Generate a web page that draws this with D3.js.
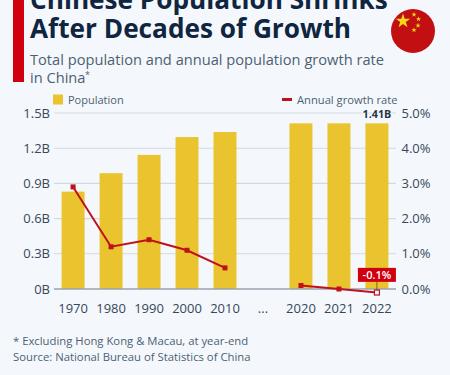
<!DOCTYPE html>
<html>
<head>
<meta charset="utf-8">
<script src="https://cdn.jsdelivr.net/npm/d3@7"></script>
<style>
  html, body { margin: 0; padding: 0; background: #f4f8fc; overflow: hidden; }
  text { font-family: "Open Sans", sans-serif; }
  .domain { display: none; }
  .tick line { display: none; }
</style>
</head>
<body>
<div id="chart"></div>
<script>
// data
var years = ["1970", "1980", "1990", "2000", "2010", "...", "2020", "2021", "2022"];
var population = [0.83, 0.987, 1.143, 1.295, 1.338, null, 1.412, 1.412, 1.412];
var growthRate = [2.9, 1.2, 1.4, 1.1, 0.6, null, 0.1, 0.0, -0.1];
var popTicks = [0, 0.3, 0.6, 0.9, 1.2, 1.5];
var rateTicks = [0, 1, 2, 3, 4, 5];
var titleLines = ["Chinese Population Shrinks", "After Decades of Growth"];
var subtitleLines = ["Total population and annual population growth rate", "in China"];
var footLines = ["* Excluding Hong Kong & Macau, at year-end", "Source: National Bureau of Statistics of China"];

var svgWidth = 450, svgHeight = 375;
var margin = { top: 113, right: 54, bottom: 86, left: 54 };
var width = svgWidth - margin.left - margin.right,
    height = svgHeight - margin.top - margin.bottom;

var svg = d3.select("#chart").append("svg")
  .attr("width", svgWidth)
  .attr("height", svgHeight)
  .style("display", "block");

svg.append("rect").attr("width", svgWidth).attr("height", svgHeight).attr("fill", "#f4f8fc");

// header
svg.append("rect").attr("x", 13).attr("y", 0).attr("width", 11).attr("height", 82).attr("fill", "#d0000f");

svg.selectAll(".title").data(titleLines).enter().append("text")
  .attr("class", "title")
  .attr("x", 30)
  .attr("y", function (d, i) { return 9 + i * 28.5; })
  .attr("font-size", 26.2)
  .attr("font-weight", 700)
  .attr("fill", "#0f2540")
  .text(function (d) { return d; });

svg.selectAll(".subtitle").data(subtitleLines).enter().append("text")
  .attr("class", "subtitle")
  .attr("x", 30)
  .attr("y", function (d, i) { return 65 + i * 17.5; })
  .attr("font-size", 14.65)
  .attr("fill", "#4d5f73")
  .text(function (d) { return d; });

svg.append("text").attr("x", 85).attr("y", 78).attr("font-size", 9).attr("fill", "#4d5f73").text("*");

// flag
var flag = svg.append("g").attr("transform", "translate(413,31)");
flag.append("circle").attr("r", 22).attr("fill", "#c20f12");
var star = d3.symbol().type(d3.symbolStar);
flag.append("path").attr("d", star.size(65)()).attr("transform", "translate(-10,-10)").attr("fill", "#f9d616");
[[1, -16.5], [5.5, -12], [5, -5.5], [1, -1]].forEach(function (p) {
  flag.append("path").attr("d", star.size(9)()).attr("transform", "translate(" + p[0] + "," + p[1] + ")").attr("fill", "#f9d616");
});

// legend
svg.append("rect").attr("x", 53).attr("y", 94.5).attr("width", 10).attr("height", 10).attr("fill", "#e9c42e");
svg.append("text").attr("x", 68).attr("y", 103.5).attr("font-size", 11).attr("fill", "#4d5f73").text("Population");
svg.append("rect").attr("x", 282).attr("y", 98).attr("width", 10).attr("height", 3).attr("fill", "#c0101a");
svg.append("text").attr("x", 297).attr("y", 103.5).attr("font-size", 11.2).attr("fill", "#4d5f73").text("Annual growth rate");

// scales
var g = svg.append("g").attr("transform", "translate(" + margin.left + "," + margin.top + ")");

var x = d3.scaleBand().domain(years).range([0, width]).paddingInner(0.395).paddingOuter(0.2);
var yPop = d3.scaleLinear().domain([0, 1.5]).range([height, 0]);
var yRate = d3.scaleLinear().domain([0, 5]).range([height, 0]);

// gridlines
g.selectAll(".grid").data(popTicks.slice(1)).enter().append("line")
  .attr("class", "grid")
  .attr("x1", 0).attr("x2", width)
  .attr("y1", yPop).attr("y2", yPop)
  .attr("stroke", "#d3d9e0")
  .attr("stroke-width", 1.1);

// axes
var axisLeft = g.append("g")
  .call(d3.axisLeft(yPop).tickValues(popTicks).tickSize(0).tickPadding(4)
    .tickFormat(function (d) { return d === 0 ? "0B" : d.toFixed(1) + "B"; }));

var axisRight = g.append("g")
  .attr("transform", "translate(" + width + ",0)")
  .call(d3.axisRight(yRate).tickValues(rateTicks).tickSize(0).tickPadding(5.5)
    .tickFormat(function (d) { return d.toFixed(1) + "%"; }));

var axisBottom = g.append("g")
  .attr("transform", "translate(0," + height + ")")
  .call(d3.axisBottom(x).tickSize(0).tickPadding(15));

[axisLeft, axisRight, axisBottom].forEach(function (a) {
  a.selectAll("text")
    .style("font-family", '"Open Sans", sans-serif')
    .style("font-size", "13px")
    .attr("fill", "#37475a");
});

// bars
g.selectAll(".bar").data(years.map(function (d, i) { return { year: d, value: population[i] }; })
    .filter(function (d) { return d.value !== null; }))
  .enter().append("rect")
  .attr("class", "bar")
  .attr("x", function (d) { return x(d.year); })
  .attr("width", x.bandwidth())
  .attr("y", function (d) { return yPop(d.value); })
  .attr("height", function (d) { return height - yPop(d.value); })
  .attr("fill", "#e9c42e");

// baseline over the bars
g.append("line")
  .attr("x1", 0).attr("x2", width)
  .attr("y1", height).attr("y2", height)
  .attr("stroke", "#9aa5b0")
  .attr("stroke-width", 1.3);

// line with the gap at "..."
var rateData = years.map(function (d, i) { return { year: d, value: growthRate[i] }; });
var line = d3.line()
  .defined(function (d) { return d.value !== null; })
  .x(function (d) { return x(d.year) + x.bandwidth() / 2; })
  .y(function (d) { return yRate(d.value); });

g.append("path")
  .datum(rateData)
  .attr("d", line)
  .attr("fill", "none")
  .attr("stroke", "#c0101a")
  .attr("stroke-width", 2);

var points = rateData.filter(function (d) { return d.value !== null; });
var last = points[points.length - 1];

g.selectAll(".pt").data(points).enter().append("rect")
  .attr("class", "pt")
  .attr("x", function (d) { return x(d.year) + x.bandwidth() / 2 - 2.5; })
  .attr("y", function (d) { return yRate(d.value) - 2.5; })
  .attr("width", 5)
  .attr("height", 5)
  .attr("fill", function (d) { return d === last ? "#f4f8fc" : "#c0101a"; })
  .attr("stroke", "#c0101a")
  .attr("stroke-width", function (d) { return d === last ? 1.2 : 0; });

// labels on the last year
var lastX = x(last.year) + x.bandwidth() / 2;

g.append("line")
  .attr("x1", lastX).attr("x2", lastX)
  .attr("y1", yRate(0.2)).attr("y2", yRate(last.value) - 2)
  .attr("stroke", "#5a4a20")
  .attr("stroke-width", 0.8);

g.append("rect")
  .attr("x", lastX - 19).attr("y", yRate(0.6))
  .attr("width", 38).attr("height", 14)
  .attr("fill", "#d0000f");

g.append("text")
  .attr("x", lastX).attr("y", yRate(0.6) + 11)
  .attr("text-anchor", "middle")
  .attr("font-size", 11)
  .attr("font-weight", 600)
  .attr("fill", "#ffffff")
  .text(d3.format(".1f")(last.value).replace("−", "-") + "%");

g.append("text")
  .attr("x", lastX).attr("y", yPop(population[8]) - 5)
  .attr("text-anchor", "middle")
  .attr("font-size", 10.8)
  .attr("font-weight", 700)
  .attr("stroke", "#f4f8fc")
  .attr("stroke-width", 2)
  .attr("paint-order", "stroke")
  .attr("fill", "#26364a")
  .text(population[8].toFixed(2) + "B");

// footer
svg.selectAll(".foot").data(footLines).enter().append("text")
  .attr("class", "foot")
  .attr("x", 13)
  .attr("y", function (d, i) { return 345 + i * 16; })
  .attr("font-size", 11.3)
  .attr("fill", "#4d5f73")
  .text(function (d) { return d; });
</script>
</body>
</html>
